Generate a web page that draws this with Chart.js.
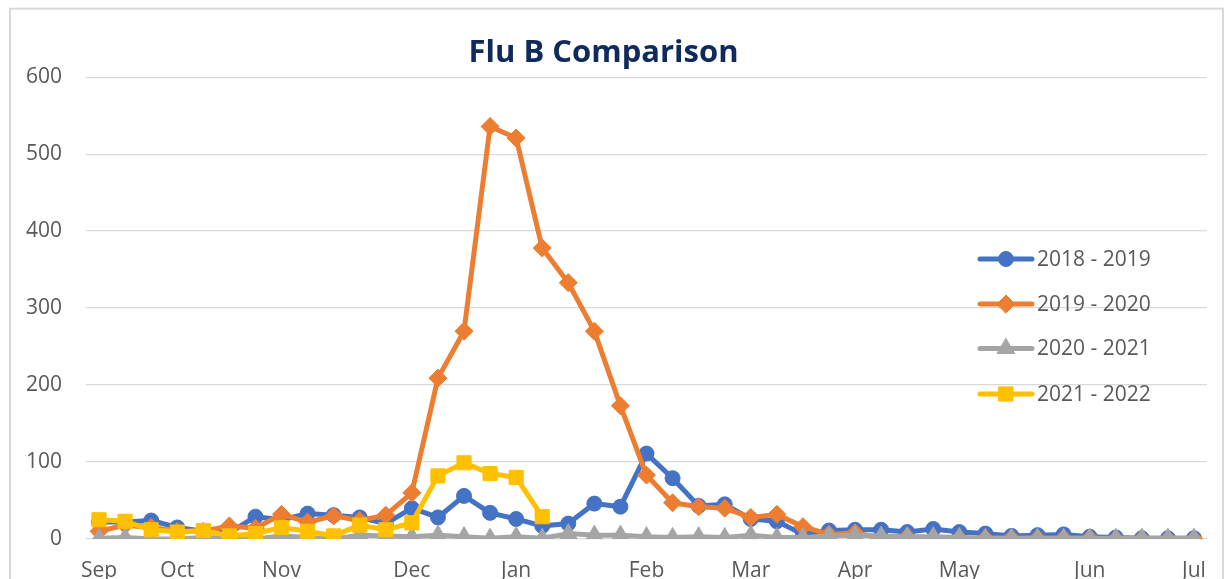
<!DOCTYPE html>
<html>
<head>
<meta charset="utf-8">
<script src="https://cdn.jsdelivr.net/npm/chart.js@4/dist/chart.umd.min.js"></script>
<style>
  html, body { margin: 0; padding: 0; background: #fff; overflow: hidden; width: 1228px; height: 579px; }
  #wrap { position: absolute; left: 0; top: 0; width: 1228px; height: 620px; }
</style>
</head>
<body>
<div id="wrap"><canvas id="flu-chart" width="1228" height="620"></canvas></div>
<script>
// weekly points, month name on the first week of each month
var weeks = ["Sep", "", "", "Oct", "", "", "", "Nov", "", "", "", "", "Dec", "", "", "", "Jan", "", "", "", "",
    "Feb", "", "", "", "Mar", "", "", "", "Apr", "", "", "", "May", "", "", "", "", "Jun", "", "", "", "Jul"];

var seasons = ["2018 - 2019", "2019 - 2020", "2020 - 2021", "2021 - 2022"];

var s2018 = [22, 22, 24, 15, 10, 8, 29, 25, 33, 31, 28, 20, 40, 28, 56, 34, 26, 17, 20, 46, 42,
    111, 79, 43, 45, 26, 23, 6, 11, 12, 12, 9, 13, 9, 7, 4, 5, 6, 3, 2, 1, 1, 1];
var s2019 = [10, 18, 15, 10, 10, 17, 14, 32, 22, 30, 24, 31, 60, 209, 270, 536, 521, 378, 333, 270, 173,
    83, 47, 42, 40, 28, 32, 16, 6, 8, 1, 3, 1, 1, 1, 1, 1, 1, 1, 0, 0, 0, 0];
var s2020 = [1, 2, 0, 0, 2, 1, 0, 4, 2, 0, 5, 4, 3, 5, 3, 1, 3, 1, 7, 5, 5,
    3, 2, 3, 2, 5, 2, 2, 4, 5, 4, 3, 3, 2, 1, 1, 1, 1, 1, 1, 1, 1, 1];
var s2021 = [25, 23, 12, 9, 11, 4, 7, 15, 10, 4, 18, 12, 21, 82, 99, 85, 80, 29];

var yTicks = [0, 100, 200, 300, 400, 500, 600];

var colors = ["#4472C4", "#ED7D31", "#A5A5A5", "#FFC000"];
var markers = ["circle", "rectRot", "triangle", "rect"];
var markerSize = [7.5, 9, 10, 10];

var FONT = "'Open Sans', sans-serif";

function makeSet(i, values) {
    return {
        label: seasons[i],
        data: values,
        borderColor: colors[i],
        backgroundColor: colors[i],
        borderWidth: 5,
        borderCapStyle: "round",
        borderJoinStyle: "round",
        tension: 0,
        pointStyle: markers[i],
        pointRadius: markerSize[i],
        pointBorderWidth: 1,
        pointBorderColor: colors[i],
        pointBackgroundColor: colors[i],
        order: 3 - i,
        spanGaps: false
    };
}

// outer frame and white background
var framePlugin = {
    id: "frame",
    beforeDraw: function(chart) {
        var ctx = chart.ctx;
        ctx.save();
        ctx.fillStyle = "#ffffff";
        ctx.fillRect(0, 0, chart.width, chart.height);
        ctx.strokeStyle = "#d9d9d9";
        ctx.lineWidth = 2;
        ctx.strokeRect(10, 8.7, 1213, 700);
        ctx.restore();
    }
};

// legend sitting inside the plot, right side
var legendPlugin = {
    id: "insideLegend",
    afterDraw: function(chart) {
        var ctx = chart.ctx;
        var rows = [259, 304, 348.5, 394];
        ctx.save();
        chart.data.datasets.forEach(function(ds, i) {
            var y = rows[i];
            ctx.strokeStyle = ds.borderColor;
            ctx.lineWidth = 5;
            ctx.lineCap = "round";
            ctx.beginPath();
            ctx.moveTo(980, y);
            ctx.lineTo(1032, y);
            ctx.stroke();
            ctx.fillStyle = ds.backgroundColor;
            ctx.strokeStyle = ds.borderColor;
            ctx.lineWidth = 1;
            Chart.helpers.drawPoint(ctx, {
                pointStyle: ds.pointStyle,
                radius: ds.pointRadius,
                rotation: 0,
                borderWidth: 1
            }, 1006, y);
            ctx.fillStyle = "#595959";
            ctx.font = "21px " + FONT;
            ctx.textAlign = "left";
            ctx.textBaseline = "middle";
            ctx.fillText(ds.label, 1037, y + 1);
        });
        ctx.restore();
    }
};

var config = {
    type: "line",
    data: {
        labels: weeks,
        datasets: [
            makeSet(0, s2018),
            makeSet(1, s2019),
            makeSet(2, s2020),
            makeSet(3, s2021)
        ]
    },
    options: {
        responsive: false,
        animation: false,
        layout: {
            padding: { top: 9, right: 21, bottom: 0, left: 0 }
        },
        plugins: {
            legend: { display: false },
            tooltip: { enabled: false },
            title: {
                display: true,
                text: "Flu B Comparison",
                color: "#0F2A5C",
                font: { family: FONT, size: 31, weight: "bold", lineHeight: 1.2 },
                padding: { top: 26, bottom: 5 }
            }
        },
        scales: {
            x: {
                type: "category",
                offset: true,
                grid: { display: false, drawTicks: false },
                border: { display: false },
                ticks: {
                    autoSkip: false,
                    maxRotation: 0,
                    color: "#595959",
                    font: { family: FONT, size: 21 },
                    padding: 19
                },
                afterFit: function(scale) { scale.height = 81; }
            },
            y: {
                min: yTicks[0],
                max: yTicks[yTicks.length - 1],
                afterBuildTicks: function(scale) {
                    scale.ticks = yTicks.map(function(v) { return { value: v }; });
                },
                grid: { color: "#d9d9d9", lineWidth: 1.3, drawTicks: false },
                border: { display: false },
                ticks: {
                    color: "#595959",
                    font: { family: FONT, size: 21 },
                    padding: 24
                },
                afterFit: function(scale) { scale.width = 86; }
            }
        }
    },
    plugins: [framePlugin, legendPlugin]
};

window.addEventListener("DOMContentLoaded", function() {
    new Chart(document.getElementById("flu-chart"), config);
});
</script>
</body>
</html>
